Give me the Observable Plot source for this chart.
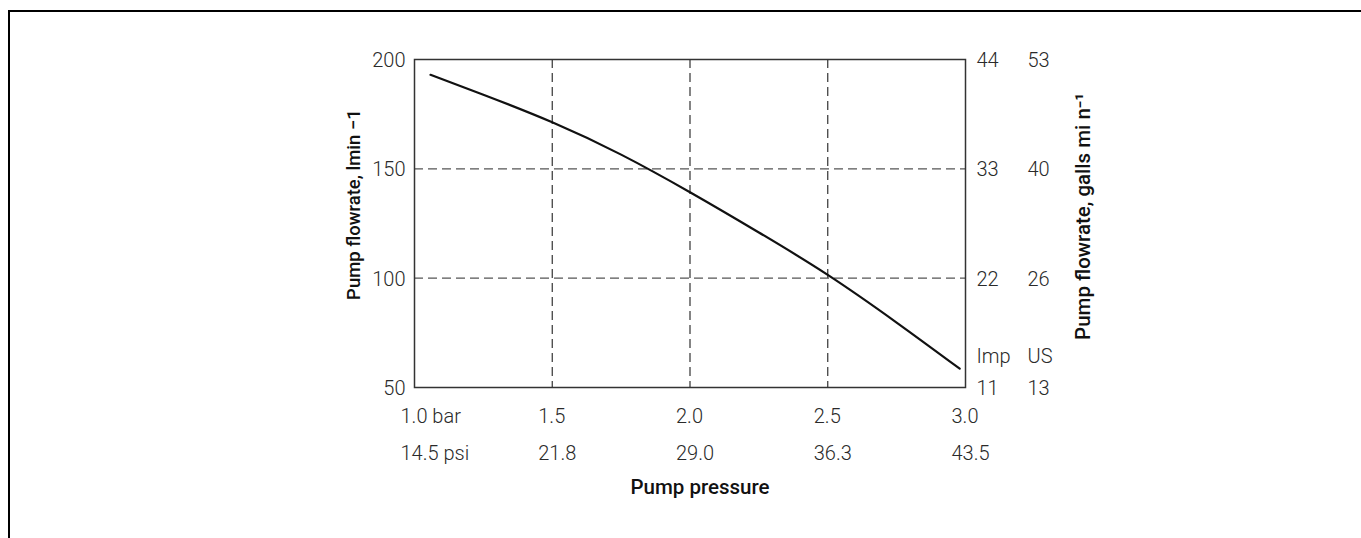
<!DOCTYPE html>
<html>
<head>
<meta charset="utf-8">
<script src="https://cdn.jsdelivr.net/npm/d3@7"></script>
<script src="https://cdn.jsdelivr.net/npm/@observablehq/plot@0.6"></script>
<style>
  html, body { margin: 0; padding: 0; background: #fff; }
  #wrap { position: relative; width: 1361px; height: 538px; overflow: hidden; }
  #border { position: absolute; left: 8px; top: 10px; right: -10px; bottom: -10px;
            border-top: 2.5px solid #000; border-left: 2.5px solid #000; }
  #chart { position: absolute; left: 0; top: 0; }
</style>
</head>
<body>
<div id="wrap"><div id="border"></div><div id="chart"></div></div>
<script>
// Curve (pressure in bar, flow in l/min)
const curvePressure = [1.058, 1.25, 1.5, 1.75, 2.0, 2.25, 2.5, 2.75, 2.979];
const curveFlow     = [193.0, 183.9, 171.3, 156.5, 139.3, 120.9, 101.5, 79.7, 58.6];

// Axis ticks
const pressureTicks = [1.0, 1.5, 2.0, 2.5, 3.0];
const barLabels = ["1.0 bar", "1.5", "2.0", "2.5", "3.0"];
const psiLabels = ["14.5 psi", "21.8", "29.0", "36.3", "43.5"];
const flowTicks = [50, 100, 150, 200];
const lpmLabels = ["50", "100", "150", "200"];
const impLabels = ["11", "22", "33", "44"];
const usLabels  = ["13", "26", "40", "53"];
const gridPressure = [1.5, 2.0, 2.5];
const gridFlow = [100, 150];

const curve = curvePressure.map((p, i) => ({p, f: curveFlow[i]}));
const tickFont = "Roboto, 'Liberation Sans', sans-serif";
const tickStyle = {fontFamily: tickFont, fontWeight: 300, fontSize: 20, fill: "#2a2a2a", lineAnchor: "middle"};
const titleStyle = {fontFamily: tickFont, fontWeight: 500, fill: "#111", lineAnchor: "middle", textAnchor: "middle"};

const chart = Plot.plot({
  width: 1361,
  height: 538,
  marginLeft: 414,
  marginRight: 396,
  marginTop: 59,
  marginBottom: 151,
  style: {fontFamily: tickFont, background: "transparent"},
  x: {domain: [1, 3], axis: null},
  y: {domain: [50, 200], axis: null},
  marks: [
    Plot.ruleX(gridPressure, {x: d => d, stroke: "#333", strokeWidth: 1.2, strokeDasharray: "9,5"}),
    Plot.ruleY(gridFlow, {y: d => d, stroke: "#555", strokeWidth: 1.2, strokeDasharray: "9,5"}),
    Plot.frame({stroke: "#333", strokeWidth: 1.5}),
    Plot.line(curve, {x: "p", y: "f", curve: "natural", stroke: "#111", strokeWidth: 2.2}),
    // bottom axis rows
    Plot.text(pressureTicks, {x: d => d, frameAnchor: "bottom", text: (d, i) => barLabels[i], textAnchor: "start", dx: -14, dy: 29, ...tickStyle}),
    Plot.text(pressureTicks, {x: d => d, frameAnchor: "bottom", text: (d, i) => psiLabels[i], textAnchor: "start", dx: -14, dy: 66, ...tickStyle}),
    // left axis
    Plot.text(flowTicks, {y: d => d, frameAnchor: "left", text: (d, i) => lpmLabels[i], textAnchor: "end", dx: -9, dy: 1, ...tickStyle}),
    // right axes
    Plot.text(flowTicks, {y: d => d, frameAnchor: "right", text: (d, i) => impLabels[i], textAnchor: "start", dx: 11, dy: 1, ...tickStyle}),
    Plot.text(flowTicks, {y: d => d, frameAnchor: "right", text: (d, i) => usLabels[i], textAnchor: "start", dx: 62, dy: 1, ...tickStyle}),
    Plot.text(["Imp"], {y: () => 50, frameAnchor: "right", text: d => d, textAnchor: "start", dx: 11, dy: -31, ...tickStyle}),
    Plot.text(["US"], {y: () => 50, frameAnchor: "right", text: d => d, textAnchor: "start", dx: 62, dy: -31, ...tickStyle}),
    // titles
    Plot.text(["Pump pressure"], {frameAnchor: "bottom", text: d => d, dx: 10, dy: 100, fontSize: 20.5, ...titleStyle}),
    Plot.text(["Pump flowrate, lmin \u22121"], {frameAnchor: "left", text: d => d, rotate: -90, dx: -60, dy: -19, fontSize: 18.5, ...titleStyle}),
    Plot.text(["Pump flowrate, galls mi n\u207B\u00B9"], {frameAnchor: "right", text: d => d, rotate: -90, dx: 118, dy: -7, fontSize: 20.5, ...titleStyle})
  ]
});
document.getElementById("chart").appendChild(chart);
</script>
</body>
</html>
